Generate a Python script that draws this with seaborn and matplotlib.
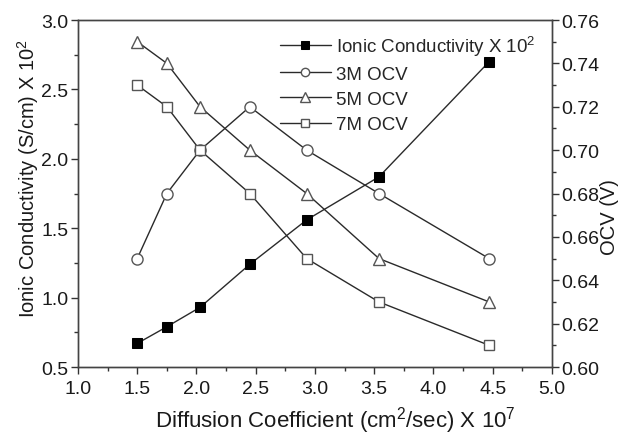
import matplotlib
matplotlib.use("Agg")
import matplotlib.pyplot as plt
import seaborn as sns
import pandas as pd
from matplotlib.ticker import MultipleLocator, FormatStrFormatter

diffusion = [1.5, 1.75, 2.03, 2.45, 2.93, 3.54, 4.47]
ionic = [0.67, 0.79, 0.93, 1.24, 1.56, 1.87, 2.70]
ocv_3m = [0.65, 0.68, 0.70, 0.72, 0.70, 0.68, 0.65]
ocv_5m = [0.75, 0.74, 0.72, 0.70, 0.68, 0.65, 0.63]
ocv_7m = [0.73, 0.72, 0.70, 0.68, 0.65, 0.63, 0.61]

sns.set_style("ticks")
plt.rcParams['font.family'] = ['Liberation Sans', 'DejaVu Sans']
plt.rcParams['mathtext.fontset'] = 'custom'
plt.rcParams['mathtext.rm'] = 'Liberation Sans'
plt.rcParams['mathtext.it'] = 'Liberation Sans'

tfs = 14
fig = plt.figure(figsize=(6.23, 4.35), dpi=100)
ax = fig.add_axes([0.1252, 0.154, 0.7608, 0.7977])
ax2 = ax.twinx()

df = pd.DataFrame({"x": diffusion, "ionic": ionic, "m3": ocv_3m, "m5": ocv_5m, "m7": ocv_7m})
lc = "#2a2a2a"
ec = "#555555"
sns.lineplot(data=df, x="x", y="ionic", ax=ax, color=lc, lw=1.0, marker="s", markersize=7.5,
             markerfacecolor="black", markeredgecolor="black", label="Ionic Conductivity X 10$^{2}$", legend=False)
sns.lineplot(data=df, x="x", y="m3", ax=ax2, color=lc, lw=1.0, marker="o", markersize=8,
             markerfacecolor="white", markeredgecolor=ec, markeredgewidth=1.0, label="3M OCV", legend=False)
sns.lineplot(data=df, x="x", y="m5", ax=ax2, color=lc, lw=1.0, marker="^", markersize=9,
             markerfacecolor="white", markeredgecolor=ec, markeredgewidth=1.0, label="5M OCV", legend=False)
sns.lineplot(data=df, x="x", y="m7", ax=ax2, color=lc, lw=1.0, marker="s", markersize=7.5,
             markerfacecolor="white", markeredgecolor=ec, markeredgewidth=1.0, label="7M OCV", legend=False)

ax.set_xlim(1.0, 5.0)
ax.set_ylim(0.5, 3.0)
ax2.set_ylim(0.60, 0.76)
ax.xaxis.set_major_locator(MultipleLocator(0.5))
ax.xaxis.set_minor_locator(MultipleLocator(0.25))
ax.yaxis.set_major_locator(MultipleLocator(0.5))
ax.yaxis.set_minor_locator(MultipleLocator(0.25))
ax2.yaxis.set_major_locator(MultipleLocator(0.02))
ax2.yaxis.set_minor_locator(MultipleLocator(0.01))
ax2.yaxis.set_major_formatter(FormatStrFormatter('%.2f'))

for a in (ax, ax2):
    a.tick_params(which='major', direction='out', length=5, width=1, labelsize=tfs,
                  colors='#333333', labelcolor='#1a1a1a', pad=2)
    a.tick_params(which='minor', direction='out', length=3, width=1, colors='#333333')
    for s in a.spines.values():
        s.set_visible(True)
        s.set_color('#444444')
        s.set_linewidth(1.0)
ax.tick_params(top=False, right=False, which='both')
ax2.tick_params(top=False, left=False, which='both')
ax.tick_params(axis='x', pad=4)

ax.set_xlabel("Diffusion Coefficient (cm$^{2}$/sec) X 10$^{7}$", fontsize=16, color='#1a1a1a')
ax.set_ylabel("Ionic Conductivity (S/cm) X 10$^{2}$", fontsize=14.5, color='#1a1a1a')
ax2.set_ylabel("OCV (V)", fontsize=14.5, color='#1a1a1a')
ax.xaxis.label.set_va('baseline')
ax.yaxis.label.set_va('center')
ax2.yaxis.label.set_va('center')
ax.xaxis.set_label_coords(0.544, -0.172)
ax.yaxis.set_label_coords(-0.106, 0.546)
ax2.yaxis.set_label_coords(1.122, 0.435)

h1, l1 = ax.get_legend_handles_labels()
h2, l2 = ax2.get_legend_handles_labels()
fig.legend(h1 + h2, l1 + l2, loc="upper left", bbox_to_anchor=(0.4366, 0.938), frameon=False,
           fontsize=13.5, handlelength=2.75, handletextpad=0.25, labelspacing=0.43,
           borderaxespad=0, markerscale=0.75)

fig.savefig("out.png", dpi=100)
